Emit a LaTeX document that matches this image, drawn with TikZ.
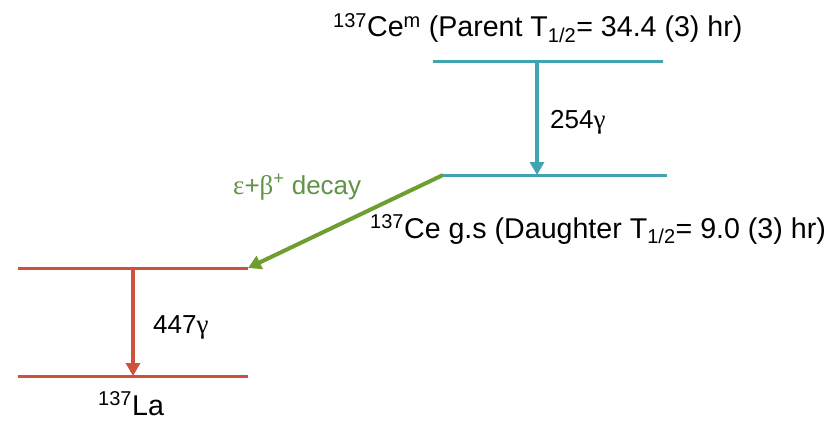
\documentclass[tikz,border=0pt]{standalone}
\usepackage{fontspec}
\setmainfont{Liberation Sans}
\newfontfamily\grk{Liberation Serif}
\usetikzlibrary{arrows.meta}
\definecolor{teal1}{HTML}{3FA3B0}
\definecolor{green1}{HTML}{6E9D32}
\definecolor{red1}{HTML}{D0503E}
\definecolor{greentext}{HTML}{5F9448}
\tikzset{
  level/.style={line width=3pt},
  trans/.style={line width=4pt,-{Triangle[length=13pt,width=14pt]}},
  lbl/.style={inner sep=0pt,anchor=base west,font=\fontsize{28.6}{32}\selectfont},
  glbl/.style={inner sep=0pt,anchor=base west,font=\fontsize{26}{28}\selectfont},
}
\newcommand{\gam}{{\grk\fontsize{27}{28}\selectfont γ}}
\newcommand{\iso}{\textsuperscript{137}}
\begin{document}
\begin{tikzpicture}[x=1pt,y=-1pt]
\useasboundingbox (0,0) rectangle (838,428);
% levels
\coordinate (pL) at (433,62);  \coordinate (pR) at (663,62);
\coordinate (dL) at (443,175); \coordinate (dR) at (667,175);
\coordinate (lL) at (18,268);  \coordinate (lR) at (248,268);
\coordinate (gL) at (18,376);  \coordinate (gR) at (248,376);
\coordinate (t1a) at (537,62); \coordinate (t1b) at (537,175);
\coordinate (t2a) at (133,268); \coordinate (t2b) at (133,376);
\draw[level,teal1] (pL) -- (pR);
\draw[level,teal1] (dL) -- (dR);
\draw[level,red1] (lL) -- (lR);
\draw[level,red1] (gL) -- (gR);
\draw[trans,teal1] (t1a) -- (t1b);
\draw[trans,red1] (t2a) -- (t2b);
\draw[trans,green1] (dL) -- (lR);
% labels
\node[lbl] (ptext) at (333,37) {\iso Ce\textsuperscript{m} (Parent T\textsubscript{1/2}= 34.4 (3) hr)};
\node[lbl] (dtext) at (370,238) {\iso Ce g.s (Daughter T\textsubscript{1/2}= 9.0 (3) hr)};
\node[glbl] (g1) at (550,128) {254\gam};
\node[glbl] (g2) at (153,333) {447\gam};
\node[lbl] (la) at (98,415) {\iso La};
\node[glbl,text=greentext] (dec) at (233,194) {{\grk\fontsize{27}{28}\selectfont ε}+{\grk\fontsize{27}{28}\selectfont β}\textsuperscript{+} decay};
\end{tikzpicture}
\end{document}
